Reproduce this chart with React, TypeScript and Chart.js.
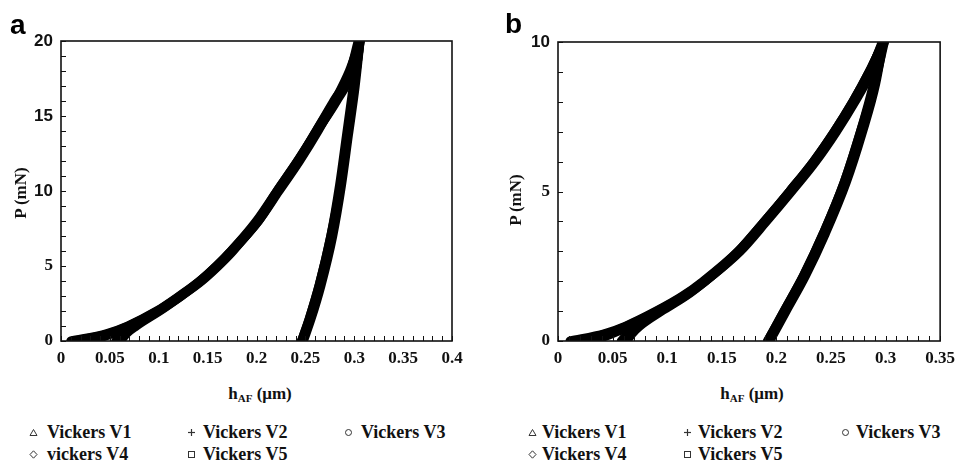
import React, { useEffect, useRef } from "react";
import { Chart, registerables } from "chart.js";

Chart.register(...registerables);

// ---------- Data: panel a (max load 20 mN) ----------
const seriesNamesA = ["Vickers V1", "Vickers V2", "Vickers V3", "vickers V4", "Vickers V5"];
const loadP_A = [0, 0.5, 1, 2, 3, 4, 5, 6, 8, 10, 12, 14, 16, 18, 20];
const loadH_A_V1 = [0.010, 0.047, 0.068, 0.098, 0.121, 0.142, 0.159, 0.174, 0.201, 0.221, 0.242, 0.261, 0.279, 0.297, 0.305];
const loadH_A_V2 = [0.014, 0.049, 0.069, 0.099, 0.122, 0.143, 0.160, 0.175, 0.202, 0.222, 0.243, 0.262, 0.281, 0.296, 0.304];
const loadH_A_V3 = [0.030, 0.053, 0.071, 0.099, 0.122, 0.142, 0.159, 0.174, 0.200, 0.221, 0.242, 0.262, 0.282, 0.298, 0.305];
const loadH_A_V4 = [0.056, 0.064, 0.075, 0.100, 0.123, 0.143, 0.160, 0.175, 0.202, 0.223, 0.244, 0.263, 0.280, 0.295, 0.306];
const loadH_A_V5 = [0.061, 0.067, 0.077, 0.101, 0.123, 0.144, 0.161, 0.176, 0.201, 0.222, 0.243, 0.261, 0.280, 0.297, 0.305];
const unloadP_A = [20, 17, 13.7, 10.4, 7, 3.7, 1.5, 0];
const unloadH_A_V1 = [0.306, 0.300, 0.293, 0.286, 0.277, 0.265, 0.255, 0.247];
const unloadH_A_V2 = [0.305, 0.299, 0.292, 0.285, 0.276, 0.264, 0.254, 0.246];
const unloadH_A_V3 = [0.306, 0.301, 0.294, 0.287, 0.278, 0.266, 0.256, 0.248];
const unloadH_A_V4 = [0.306, 0.300, 0.293, 0.286, 0.277, 0.265, 0.255, 0.247];
const unloadH_A_V5 = [0.305, 0.300, 0.293, 0.286, 0.276, 0.264, 0.254, 0.246];

// ---------- Data: panel b (max load 10 mN) ----------
const seriesNamesB = ["Vickers V1", "Vickers V2", "Vickers V3", "Vickers V4", "Vickers V5"];
const loadP_B = [0, 0.25, 0.5, 1, 1.5, 2, 3, 4, 5, 6, 7, 8, 9, 10];
const loadH_B_V1 = [0.011, 0.043, 0.062, 0.090, 0.114, 0.133, 0.165, 0.189, 0.212, 0.234, 0.253, 0.270, 0.285, 0.298];
const loadH_B_V2 = [0.016, 0.045, 0.063, 0.091, 0.115, 0.134, 0.166, 0.190, 0.213, 0.235, 0.254, 0.271, 0.286, 0.297];
const loadH_B_V3 = [0.032, 0.050, 0.066, 0.092, 0.115, 0.134, 0.165, 0.189, 0.212, 0.234, 0.253, 0.270, 0.285, 0.298];
const loadH_B_V4 = [0.058, 0.064, 0.071, 0.093, 0.116, 0.135, 0.166, 0.190, 0.213, 0.235, 0.254, 0.271, 0.286, 0.299];
const loadH_B_V5 = [0.063, 0.068, 0.075, 0.095, 0.117, 0.135, 0.167, 0.191, 0.214, 0.236, 0.255, 0.272, 0.287, 0.298];
const unloadP_B = [10, 8.6, 7, 5.3, 3.6, 2.2, 1, 0];
const unloadH_B_V1 = [0.298, 0.290, 0.278, 0.263, 0.244, 0.226, 0.208, 0.193];
const unloadH_B_V2 = [0.297, 0.289, 0.277, 0.262, 0.243, 0.225, 0.207, 0.192];
const unloadH_B_V3 = [0.298, 0.291, 0.279, 0.264, 0.245, 0.227, 0.209, 0.194];
const unloadH_B_V4 = [0.299, 0.290, 0.278, 0.263, 0.244, 0.226, 0.208, 0.193];
const unloadH_B_V5 = [0.298, 0.290, 0.277, 0.262, 0.243, 0.225, 0.207, 0.192];

// ---------- Axis ticks ----------
const xMaxA = 0.4;
const yMaxA = 20;
const xMaxB = 0.35;
const yMaxB = 10;
const xMajorStep = 0.05;
const xMinorStep = 0.01;
const yMajorStep = 5;
const yMinorStep = 1;

const SERIF = "'Liberation Serif', 'Times New Roman', Times, serif";
const SANS = "'Liberation Sans', Arial, sans-serif";

const framePlugin = {
  id: "frame",
  afterDatasetsDraw(chart: any, _args: any, opts: any) {
    const { ctx, chartArea } = chart;
    const { left, top, right, bottom } = chartArea;
    const x = chart.scales.x;
    const y = chart.scales.y;
    ctx.save();
    ctx.strokeStyle = "#111";
    ctx.lineWidth = 1;
    ctx.beginPath();
    for (let i = 0; i * opts.xMinor <= x.max + 1e-9; i++) {
      const px = Math.round(x.getPixelForValue(i * opts.xMinor)) + 0.5;
      ctx.moveTo(px, bottom);
      ctx.lineTo(px, bottom - 5);
    }
    for (let i = 0; i * opts.yMinor <= y.max + 1e-9; i++) {
      const py = Math.round(y.getPixelForValue(i * opts.yMinor)) + 0.5;
      ctx.moveTo(left, py);
      ctx.lineTo(left + 5, py);
    }
    ctx.stroke();
    ctx.lineWidth = 1.6;
    ctx.strokeRect(left, top, right - left, bottom - top);
    ctx.restore();
  },
};

function toPoints(h: number[], p: number[]) {
  return h.map((v, i) => ({ x: v, y: p[i] }));
}

type PanelProps = {
  canvasLeft: number;
  canvasWidth: number;
  canvasHeight: number;
  padTop: number;
  padRight: number;
  yAxisWidth: number;
  xAxisHeight: number;
  xMax: number;
  yMax: number;
  sansTicks: number[];
  names: string[];
  loadP: number[];
  loadH: number[][];
  unloadP: number[];
  unloadH: number[][];
};

function Panel(props: PanelProps) {
  const ref = useRef<HTMLCanvasElement | null>(null);
  useEffect(() => {
    if (!ref.current) return;
    const datasets: any[] = [];
    props.names.forEach((name, i) => {
      const common = {
        showLine: true,
        borderColor: "#000",
        backgroundColor: "#000",
        borderWidth: 9,
        pointRadius: 0,
        cubicInterpolationMode: "monotone",
        borderCapStyle: "round",
        borderJoinStyle: "round",
      };
      datasets.push({ ...common, label: name, data: toPoints(props.loadH[i], props.loadP) });
      datasets.push({ ...common, label: name + " unloading", data: toPoints(props.unloadH[i], props.unloadP) });
    });
    const chart = new Chart(ref.current, {
      type: "scatter",
      data: { datasets },
      plugins: [framePlugin],
      options: {
        responsive: false,
        animation: false,
        events: [],
        layout: { padding: { top: props.padTop, right: props.padRight, left: 0, bottom: 0 } },
        plugins: {
          legend: { display: false },
          tooltip: { enabled: false },
          frame: { xMinor: xMinorStep, yMinor: yMinorStep },
        } as any,
        scales: {
          x: {
            type: "linear",
            min: 0,
            max: props.xMax,
            grid: { display: false, drawTicks: false },
            border: { display: false },
            afterFit: (s: any) => {
              s.height = props.xAxisHeight;
            },
            ticks: {
              stepSize: xMajorStep,
              autoSkip: false,
              maxRotation: 0,
              padding: 7,
              color: "#111",
              font: { family: SERIF, size: 17, weight: "bold" },
              callback: (v: any) => String(Math.round(Number(v) * 100) / 100),
            },
          },
          y: {
            type: "linear",
            min: 0,
            max: props.yMax,
            grid: { display: false, drawTicks: false },
            border: { display: false },
            afterFit: (s: any) => {
              s.width = props.yAxisWidth;
            },
            ticks: {
              stepSize: yMajorStep,
              padding: 8,
              color: "#111",
              font: (c: any) => ({
                family: c.tick && props.sansTicks.includes(c.tick.value) ? SANS : SERIF,
                size: 17,
                weight: "bold",
              }),
              callback: (v: any) => String(v),
            },
          },
        },
      } as any,
    });
    return () => chart.destroy();
  }, []);
  return (
    <canvas
      ref={ref}
      width={props.canvasWidth}
      height={props.canvasHeight}
      style={{ position: "absolute", left: props.canvasLeft, top: 0, width: props.canvasWidth, height: props.canvasHeight }}
    />
  );
}

function Marker({ kind }: { kind: number }) {
  const s = "#333";
  let shape: any = null;
  if (kind === 0) shape = <polygon points="4.5,1.5 8,7.5 1,7.5" fill="none" stroke={s} strokeWidth={1} />;
  if (kind === 1)
    shape = (
      <g stroke={s} strokeWidth={1.2}>
        <line x1={4.5} y1={1} x2={4.5} y2={8} />
        <line x1={1} y1={4.5} x2={8} y2={4.5} />
      </g>
    );
  if (kind === 2) shape = <circle cx={4.5} cy={4.5} r={3} fill="none" stroke={s} strokeWidth={1} />;
  if (kind === 3) shape = <polygon points="4.5,0.8 8,4.5 4.5,8.2 1,4.5" fill="none" stroke={s} strokeWidth={1} />;
  if (kind === 4) shape = <rect x={1.5} y={1.5} width={6} height={6} fill="none" stroke={s} strokeWidth={1} />;
  return (
    <svg width={9} height={9} style={{ position: "absolute", left: -4.5, top: 5.5 }}>
      {shape}
    </svg>
  );
}

function Legend({ names, markerX, textX }: { names: string[]; markerX: number[]; textX: number[] }) {
  const rowsY = [422, 444];
  return (
    <>
      {names.map((n, i) => {
        const col = i % 3;
        const row = Math.floor(i / 3);
        return (
          <div key={i} style={{ position: "absolute", left: markerX[col], top: rowsY[row], height: 20 }}>
            <Marker kind={i} />
            <span
              style={{
                position: "absolute",
                left: textX[col] - markerX[col],
                top: 0,
                whiteSpace: "nowrap",
                font: `bold 18px ${SERIF}`,
                lineHeight: "20px",
                color: "#111",
              }}
            >
              {n}
            </span>
          </div>
        );
      })}
    </>
  );
}

function AxisTitles({ xCenter, yTitleX, yTitleY }: { xCenter: number; yTitleX: number; yTitleY: number }) {
  return (
    <>
      <div
        style={{
          position: "absolute",
          left: xCenter - 60,
          width: 120,
          top: 383,
          textAlign: "center",
          font: `bold 17px ${SERIF}`,
          lineHeight: "22px",
          color: "#111",
          whiteSpace: "nowrap",
        }}
      >
        h<sub style={{ fontSize: 11, verticalAlign: "-3px" }}>AF</sub> (μm)
      </div>
      <div
        style={{
          position: "absolute",
          left: yTitleX - 50,
          top: yTitleY - 11,
          width: 100,
          textAlign: "center",
          font: `bold 17px ${SERIF}`,
          lineHeight: "22px",
          color: "#111",
          transform: "rotate(-90deg)",
          whiteSpace: "nowrap",
        }}
      >
        P (mN)
      </div>
    </>
  );
}

export default function App() {
  return (
    <div style={{ position: "absolute", left: 0, top: 0, width: 962, height: 465, overflow: "hidden", background: "#fff" }}>
      <Panel
        canvasLeft={0}
        canvasWidth={480}
        canvasHeight={380}
        padTop={41}
        padRight={28}
        yAxisWidth={61}
        xAxisHeight={39}
        xMax={xMaxA}
        yMax={yMaxA}
        sansTicks={[20, 15, 10]}
        names={seriesNamesA}
        loadP={loadP_A}
        loadH={[loadH_A_V1, loadH_A_V2, loadH_A_V3, loadH_A_V4, loadH_A_V5]}
        unloadP={unloadP_A}
        unloadH={[unloadH_A_V1, unloadH_A_V2, unloadH_A_V3, unloadH_A_V4, unloadH_A_V5]}
      />
      <Panel
        canvasLeft={480}
        canvasWidth={482}
        canvasHeight={380}
        padTop={42}
        padRight={15}
        yAxisWidth={78}
        xAxisHeight={39}
        xMax={xMaxB}
        yMax={yMaxB}
        sansTicks={[10]}
        names={seriesNamesB}
        loadP={loadP_B}
        loadH={[loadH_B_V1, loadH_B_V2, loadH_B_V3, loadH_B_V4, loadH_B_V5]}
        unloadP={unloadP_B}
        unloadH={[unloadH_B_V1, unloadH_B_V2, unloadH_B_V3, unloadH_B_V4, unloadH_B_V5]}
      />
      <div style={{ position: "absolute", left: 10, top: 11, font: `bold 28px ${SANS}`, lineHeight: "28px", color: "#000" }}>a</div>
      <div style={{ position: "absolute", left: 505, top: 10, font: `bold 28px ${SANS}`, lineHeight: "28px", color: "#000" }}>b</div>
      <AxisTitles xCenter={260} yTitleX={21} yTitleY={193} />
      <AxisTitles xCenter={752} yTitleX={516} yTitleY={200} />
      <Legend names={seriesNamesA} markerX={[33, 191, 348]} textX={[47, 203, 361]} />
      <Legend names={seriesNamesB} markerX={[532, 687, 845]} textX={[542, 698, 856]} />
    </div>
  );
}
